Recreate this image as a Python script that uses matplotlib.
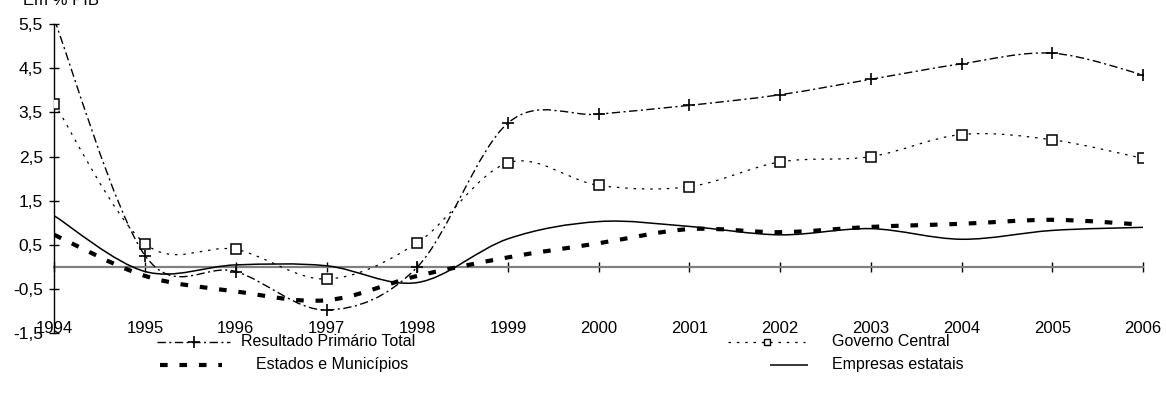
import matplotlib
matplotlib.use('Agg')
import matplotlib.pyplot as plt
from matplotlib.path import Path
from matplotlib.patches import PathPatch
from matplotlib.lines import Line2D

plt.rcParams['font.family'] = ['Liberation Sans', 'DejaVu Sans']
plt.rcParams['lines.scale_dashes'] = False

# data (% do PIB)
anos = [1994, 1995, 1996, 1997, 1998, 1999, 2000, 2001, 2002, 2003, 2004, 2005, 2006]
resultado = [5.6, 0.26, -0.1, -0.97, 0.0, 3.26, 3.46, 3.66, 3.9, 4.25, 4.6, 4.84, 4.35]
governo = [3.7, 0.53, 0.4, -0.27, 0.55, 2.36, 1.85, 1.82, 2.38, 2.5, 3.0, 2.88, 2.46]
estados = [0.73, -0.2, -0.55, -0.75, -0.2, 0.22, 0.54, 0.86, 0.79, 0.91, 0.98, 1.07, 0.96]
empresas = [1.16, -0.1, 0.05, 0.03, -0.35, 0.64, 1.03, 0.92, 0.73, 0.87, 0.63, 0.83, 0.9]
yticks = [-1.5, -0.5, 0.5, 1.5, 2.5, 3.5, 4.5, 5.5]

# styles
st_res = dict(color='black', lw=1.0, ls=(0, (6, 2.5, 1.5, 2.5)))
st_gov = dict(color='black', lw=0.9, ls=(0, (1.8, 4.2)))
st_est = dict(color='black', lw=3.0, ls=(0, (5.5, 8.5)))
st_emp = dict(color='black', lw=1.1, ls='-')


def smooth_path(xs, ys):
    # excel-like smoothed line: cubic bezier through the points (catmull-rom)
    pts = list(zip(xs, ys))
    n = len(pts)
    verts = [pts[0]]
    codes = [Path.MOVETO]
    for i in range(n - 1):
        p0 = pts[i - 1] if i > 0 else pts[i]
        p1 = pts[i]
        p2 = pts[i + 1]
        p3 = pts[i + 2] if i + 2 < n else pts[i + 1]
        c1 = (p1[0] + (p2[0] - p0[0]) / 6, p1[1] + (p2[1] - p0[1]) / 6)
        c2 = (p2[0] - (p3[0] - p1[0]) / 6, p2[1] - (p3[1] - p1[1]) / 6)
        verts += [c1, c2, p2]
        codes += [Path.CURVE4] * 3
    return Path(verts, codes)


fig = plt.figure(figsize=(11.66, 3.97), dpi=100)
ax = fig.add_axes([0.0466, 0.1602, 0.9337, 0.7793])
ax.set_xlim(1994, 2006)
ax.set_ylim(-1.5, 5.5)

for vals, st in [(empresas, st_emp), (estados, st_est), (governo, st_gov), (resultado, st_res)]:
    ax.add_patch(PathPatch(smooth_path(anos, vals), fill=False, edgecolor=st['color'],
                           lw=st['lw'], ls=st['ls'], capstyle='butt', zorder=3))

ax.plot(anos, governo, ls='none', marker='s', ms=6.5, mfc='white', mec='black', mew=1.1, zorder=4)
ax.plot(anos, resultado, ls='none', marker='+', ms=8, mec='black', mew=1.2, zorder=4)

for s in ['top', 'right']:
    ax.spines[s].set_visible(False)
ax.spines['left'].set_linewidth(1.0)
ax.spines['bottom'].set_position(('data', 0))
ax.spines['bottom'].set_color('#808080')
ax.spines['bottom'].set_linewidth(1.6)
ax.spines['bottom'].set_zorder(2)

ax.set_yticks(yticks)
ax.set_yticklabels([('%.1f' % v).replace('.', ',') for v in yticks], fontsize=12.5)
ax.tick_params(axis='y', direction='inout', length=6.5, width=1.0, pad=5)
ax.set_xticks(anos)
ax.set_xticklabels([str(a) for a in anos], fontsize=12)
ax.tick_params(axis='x', direction='inout', length=7, width=1.0, color='black', pad=35)

fig.text(23 / 1166, 1 - 5 / 397, 'Em % PIB', fontsize=12, va='baseline', ha='left')

# legend (manual, two columns)
H, W = 397, 1166
def fx(px): return px / W
def fy(py): return 1 - py / H

rows = [
    (342, 157, 230, st_res, '+', 241, 'Resultado Primário Total'),
    (342, 728, 805, st_gov, 's', 832, 'Governo Central'),
    (365, 160, 222, st_est, None, 256, 'Estados e Municípios'),
    (365, 770, 808, st_emp, None, 832, 'Empresas estatais'),
]
for py, x0, x1, st, mk, tx, label in rows:
    fig.add_artist(Line2D([fx(x0), fx(x1)], [fy(py), fy(py)], transform=fig.transFigure,
                          color='black', lw=st['lw'], ls=st['ls'], solid_capstyle='butt',
                          dash_capstyle='butt'))
    if mk == '+':
        fig.add_artist(Line2D([fx((x0 + x1) / 2)], [fy(py)], transform=fig.transFigure,
                              ls='none', marker='+', ms=8, mec='black', mew=1.2))
    elif mk == 's':
        fig.add_artist(Line2D([fx((x0 + x1) / 2)], [fy(py)], transform=fig.transFigure,
                              ls='none', marker='s', ms=4.5, mfc='white', mec='black', mew=1.0))
    fig.text(fx(tx), fy(py), label, fontsize=11.5, va='center', ha='left')

fig.savefig('out.png', dpi=100)
